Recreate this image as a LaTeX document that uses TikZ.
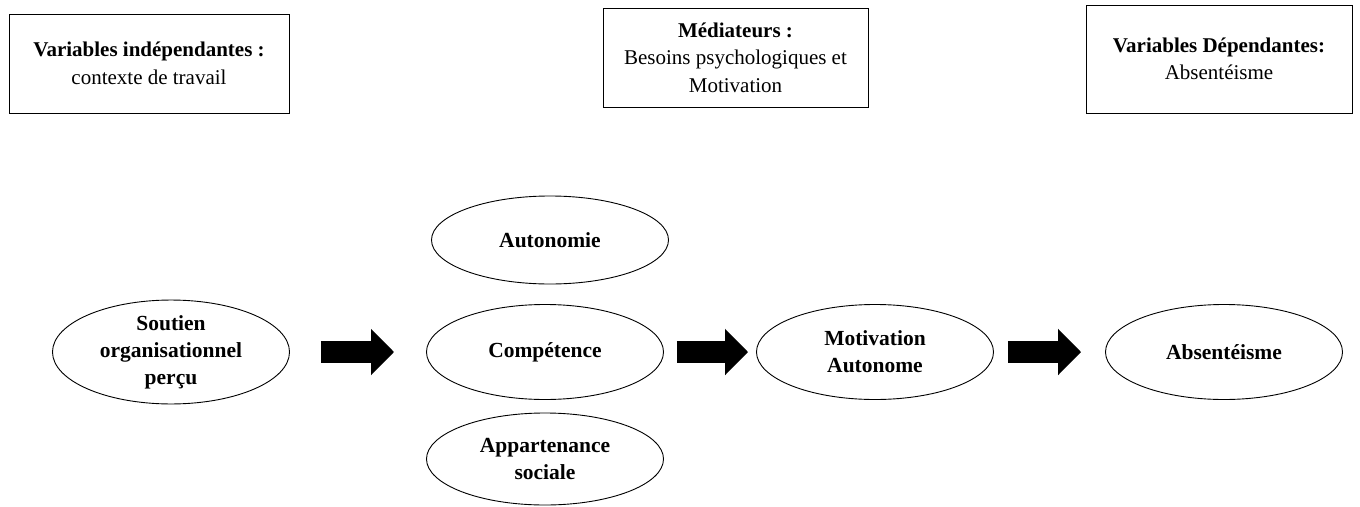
\documentclass[tikz,border=0pt]{standalone}
\usepackage{fontspec}
\setmainfont{Liberation Serif}
\usepackage{tikz}
\usetikzlibrary{arrows.meta,shapes.geometric}

\begin{document}
\begin{tikzpicture}[x=1pt, y=-1pt,
    titlebox/.style={draw, line width=1pt, inner sep=0pt, align=center,
        font=\fontsize{21}{27.5}\selectfont},
    bubble/.style={draw, ellipse, line width=0.9pt, inner sep=0pt, align=center,
        minimum width=237pt, minimum height=95pt, font=\fontsize{21.5}{27}\selectfont\bfseries},
    fatarrow/.style={line width=22pt, -{Triangle[length=23pt, width=45pt]}}]
        \useasboundingbox (0,0) rectangle (1360,506);

        % boxes at the top
        \node[titlebox, minimum width=280pt, minimum height=99pt] (indep) at (149, 63.5) {\textbf{Variables indépendantes :}\\contexte de travail};
        \node[titlebox, minimum width=265pt, minimum height=99pt] (medi) at (735.5, 57.5) {\textbf{Médiateurs :}\\Besoins psychologiques et\\Motivation};
        \node[titlebox, minimum width=266pt, minimum height=108pt] (dep) at (1219, 59) {\textbf{Variables Dépendantes:}\\Absentéisme};

        % model
        \node[bubble] (soutien) at (171, 352) {Soutien\\organisationnel\\perçu};
        \node[bubble, minimum height=88pt] (auto) at (550, 240) {Autonomie};
        \node[bubble] (comp) at (545, 352) {Compétence};
        \node[bubble, minimum height=92pt] (appart) at (545, 459) {Appartenance\\sociale};
        \node[bubble] (motiv) at (875, 352) {Motivation\\Autonome};
        \node[bubble] (absent) at (1224, 352) {Absentéisme};

        \draw[fatarrow, shorten <=31pt, shorten >=32pt] (soutien) -- (comp);
        \draw[fatarrow, shorten <=13pt, shorten >=8pt] (comp) -- (motiv);
        \draw[fatarrow, shorten <=14pt, shorten >=24pt] (motiv) -- (absent);
    \end{tikzpicture}
\end{document}
